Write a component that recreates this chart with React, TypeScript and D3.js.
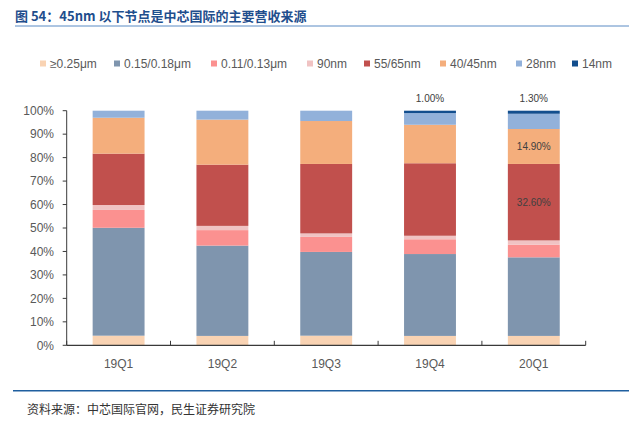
import React from "react";
import * as d3 from "d3";

const categories = ["19Q1", "19Q2", "19Q3", "19Q4", "20Q1"];
const seriesNames = ["≥0.25μm", "0.15/0.18μm", "0.11/0.13μm", "90nm", "55/65nm", "40/45nm", "28nm", "14nm"];
const seriesColors = ["#f9d3b3", "#7f95ae", "#fb9190", "#f0c3c3", "#c1504d", "#f4ae7c", "#92b1da", "#124e8e"];
const s025 = [4.1, 4.0, 4.1, 4.0, 4.0];
const s015 = [46.0, 38.5, 35.7, 34.9, 33.5];
const s011 = [7.6, 6.6, 6.4, 6.3, 5.4];
const s90 = [2.1, 1.8, 1.5, 1.5, 1.8];
const s55 = [21.9, 26.1, 29.6, 30.9, 32.6];
const s40 = [15.3, 19.2, 18.3, 16.4, 14.9];
const s28 = [3.0, 3.8, 4.4, 5.0, 6.5];
const s14 = [0, 0, 0, 1.0, 1.3];
const seriesValues = [s025, s015, s011, s90, s55, s40, s28, s14];
const yTicks = [0, 10, 20, 30, 40, 50, 60, 70, 80, 90, 100];
// labelled points: [series index, category index, text]
const dataLabels: [number, number, string][] = [
  [7, 3, "1.00%"],
  [7, 4, "1.30%"],
  [5, 4, "14.90%"],
  [4, 4, "32.60%"],
];

const W = 640;
const H = 423;
const latin = "'Liberation Sans', Arial, sans-serif";
const cjk = "'Noto Sans CJK SC', 'Noto Sans', sans-serif";

export default function App() {
  const x = d3
    .scaleBand<string>()
    .domain(categories)
    .range([66.7, 585.7])
    .paddingInner(0.5)
    .paddingOuter(0.25);
  const y = d3.scaleLinear().domain([0, 100]).range([345.3, 110.7]);

  const rows = categories.map((c, i) => {
    const r: any = { cat: c };
    seriesNames.forEach((n, k) => (r[n] = seriesValues[k][i]));
    return r;
  });
  const stacked = d3.stack<any>().keys(seriesNames)(rows);

  const axisColor = "#3a3a3a";
  const textColor = "#595959";
  const step = x.step();
  const x0 = x.range()[0];
  const x1 = x.range()[1];

  // legend positions
  const legendX = [40, 114, 211, 307, 364, 440, 516, 572];

  return (
    <svg width={W} height={H} style={{ position: "absolute", left: 0, top: 0, background: "#fff" }}>
      <rect x={0} y={0} width={W} height={H} fill="#fff" />
      {/* title */}
      <text x={15} y={20.5} fontFamily={cjk} fontWeight={700} fontSize={13} fill="#1f4e8d">
        图 54：45nm 以下节点是中芯国际的主要营收来源
      </text>
      <line x1={15} x2={629} y1={26} y2={26} stroke="#5b8bc4" strokeWidth={1} />

      {/* legend */}
      {seriesNames.map((n, k) => (
        <g key={n} transform={`translate(${legendX[k]},63.5)`}>
          <rect x={0} y={-3} width={6} height={6} fill={seriesColors[k]} />
          <text x={10} y={0} dy="0.35em" fontFamily={latin} fontSize={12} fill={textColor}>
            {n}
          </text>
        </g>
      ))}

      {/* bars */}
      {stacked.map((layer, k) => (
        <g key={layer.key} fill={seriesColors[k]}>
          {layer.map((d, i) =>
            d[1] - d[0] > 0 ? (
              <rect
                key={i}
                x={x(categories[i])}
                width={x.bandwidth()}
                y={y(d[1])}
                height={y(d[0]) - y(d[1])}
              />
            ) : null
          )}
        </g>
      ))}

      {/* data labels */}
      {dataLabels.map(([k, i, t]) => {
        const d = stacked[k][i];
        const cx = (x(categories[i]) as number) + x.bandwidth() / 2;
        const cy = k === 7 ? y(d[1]) - 12 : (y(d[0]) + y(d[1])) / 2;
        return (
          <text key={t} x={cx} y={cy} dy="0.35em" textAnchor="middle" fontFamily={latin} fontSize={10} fill="#404040">
            {t}
          </text>
        );
      })}

      {/* y axis */}
      <line x1={x0} x2={x0} y1={y(100)} y2={y(0)} stroke={axisColor} strokeWidth={1} />
      {yTicks.map((t) => (
        <g key={t}>
          <line x1={x0 - 4} x2={x0} y1={y(t)} y2={y(t)} stroke={axisColor} strokeWidth={1} />
          <text x={54} y={y(t)} dy="0.35em" textAnchor="end" fontFamily={latin} fontSize={12} fill={textColor}>
            {t}%
          </text>
        </g>
      ))}

      {/* x axis */}
      <line x1={x0} x2={x1} y1={y(0)} y2={y(0)} stroke={axisColor} strokeWidth={1.2} />
      {d3.range(categories.length + 1).map((i) => (
        <line key={i} x1={x0 + i * step} x2={x0 + i * step} y1={y(0) - 4.5} y2={y(0)} stroke={axisColor} strokeWidth={1} />
      ))}
      {categories.map((c) => (
        <text
          key={c}
          x={(x(c) as number) + x.bandwidth() / 2}
          y={363.5}
          dy="0.35em"
          textAnchor="middle"
          fontFamily={latin}
          fontSize={12}
          fill={textColor}
        >
          {c}
        </text>
      ))}

      {/* footer */}
      <line x1={13} x2={629} y1={390.7} y2={390.7} stroke="#1f5f9f" strokeWidth={1.5} />
      <text x={27} y={410} dy="0.35em" fontFamily={cjk} fontSize={12} fill="#333">
        资料来源：中芯国际官网，民生证券研究院
      </text>
    </svg>
  );
}
